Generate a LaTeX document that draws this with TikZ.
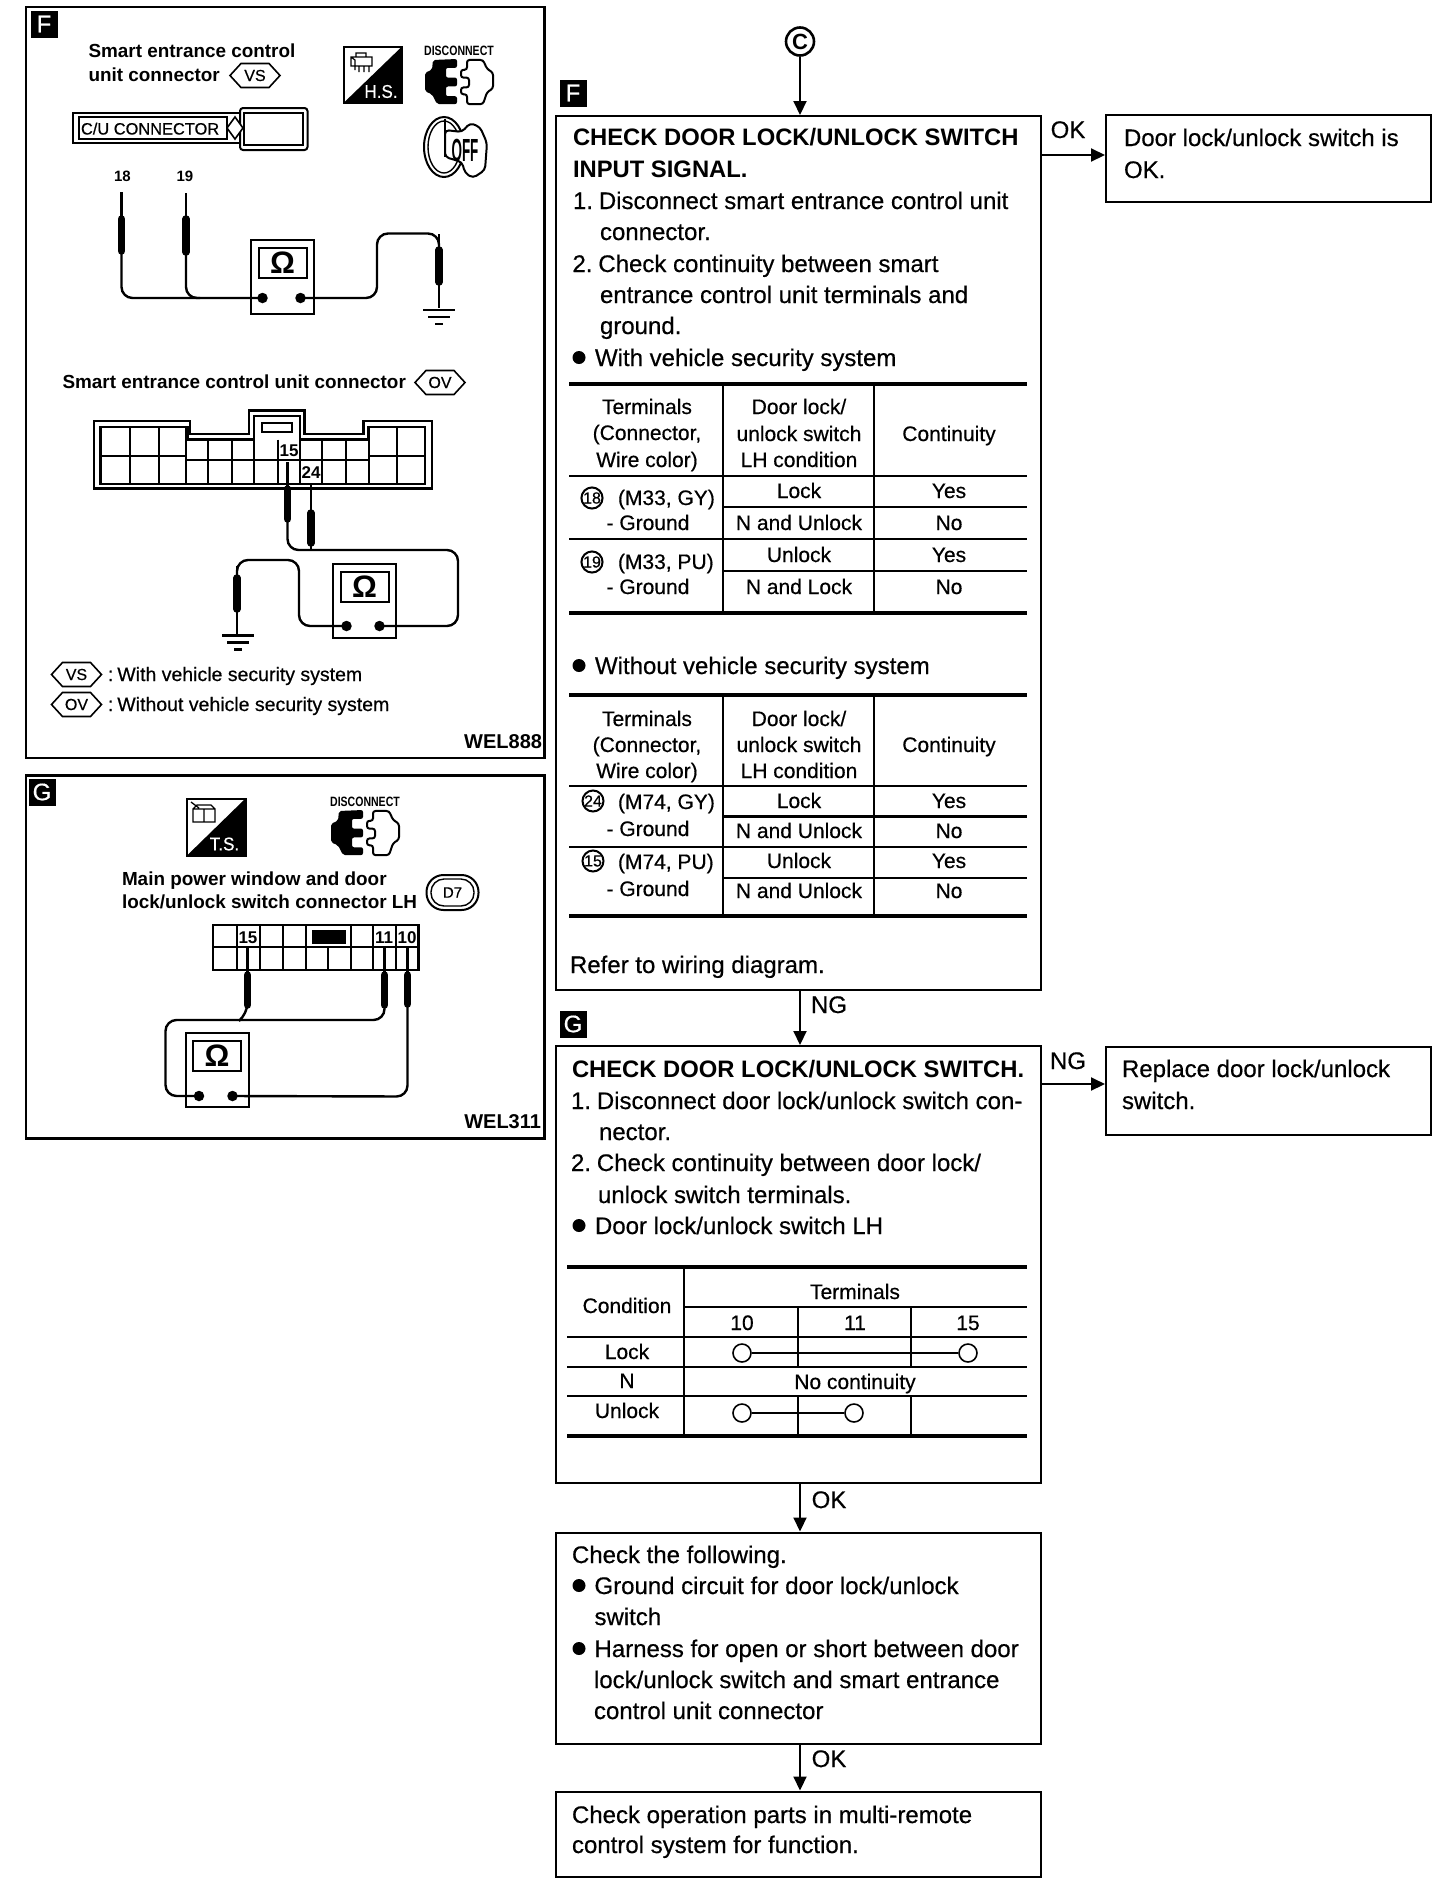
\documentclass[tikz,border=0pt]{standalone}
\usepackage{fontspec}
\usetikzlibrary{arrows.meta,calc}
\setmainfont{Liberation Sans}[UprightFeatures={FakeBold=0.5}]
\newcounter{tn}
\tikzset{
  txt/.style={inner sep=0pt,outer sep=0pt,text=black},
  body/.style={txt,font=\fontsize{24}{24}\selectfont},
  heading/.style={txt,font=\fontsize{23.8}{24}\selectfont\bfseries},
  tabt/.style={txt,font=\fontsize{21}{21}\selectfont},
  pant/.style={txt,font=\fontsize{19.5}{20}\selectfont},
  boldp/.style={txt,font=\fontsize{18.9}{20}\selectfont\bfseries},
  wel/.style={txt,font=\fontsize{20}{20}\selectfont\bfseries},
  pinl/.style={txt,font=\fontsize{17}{17}\selectfont\bfseries},
  flow/.style={draw=black,line width=2pt,anchor=north west,inner sep=0pt,fill=white},
  arr/.style={draw=black,line width=2pt,-{Triangle[length=14pt,width=13pt]}},
  thick rule/.style={line width=4.5pt,black},
  thin rule/.style={line width=2.4pt,black},
  wire/.style={line width=2.4pt,black,rounded corners=11pt},
  mbox/.style={draw=black,line width=2pt,minimum width=63pt,minimum height=74pt,anchor=north west,inner sep=0pt},
  mscr/.style={draw=black,line width=2.2pt,minimum width=48pt,minimum height=30pt,anchor=north west,inner sep=0pt,font=\fontsize{31}{31}\selectfont\bfseries},
  mdot/.style={circle,fill=black,minimum size=10.5pt,inner sep=0pt},
  letter/.style={fill=black,text=white,minimum size=27pt,inner sep=0pt,font=\fontsize{24}{24}\selectfont},
  cnum/.style={circle,draw=black,line width=2pt,minimum size=21pt,inner sep=0pt,font=\fontsize{16}{16}\selectfont},
  openc/.style={circle,draw=black,fill=white,line width=1.6pt,minimum size=18pt,inner sep=0pt},
}
\newcommand\tl[4][body]{\stepcounter{tn}\node[#1,anchor=base west] (t\arabic{tn}) at (#2,#3) {#4};}
\newcommand\tc[4][tabt]{\stepcounter{tn}\node[#1,anchor=base] (t\arabic{tn}) at (#2,#3) {#4};}
\newcommand\tr[4][wel]{\stepcounter{tn}\node[#1,anchor=base east] (t\arabic{tn}) at (#2,#3) {#4};}
\newcommand\bul[2]{\fill[black] (#1,#2-8.5) circle (6.5);}
\newcommand\meter[6]{% name x y doty dotxl dotxr
  \node[mbox] (#1) at (#2,#3) {};
  \node[mscr] (#1s) at ({#2+7.5},{#3+8}) {Ω};
  \node[mdot] (#1l) at ({#2+#5},{#3+#4}) {};
  \node[mdot] (#1r) at ({#2+#6},{#3+#4}) {};}
\newcommand\probe[5]{% name x tip y1 y2
  \coordinate (#1) at (#2,#5);
  \draw[line width=2.2pt,black] (#2,#3) -- (#2,#5);
  \draw[line width=2.8pt,black] (#2,{#4-12}) -- (#2,#4);
  \draw[line width=7.5pt,black,line cap=round] (#2,#4) -- (#2,#5);}
\newcommand\gnd[2]{%
  \draw[line width=2.4pt,black] ({#1-16},#2) -- ({#1+16},#2);
  \draw[line width=2.2pt,black] ({#1-11},{#2+7}) -- ({#1+11},{#2+7});
  \draw[line width=2.6pt,black] ({#1-4},{#2+14}) -- ({#1+4},{#2+14});}
\newcommand\hexa[4]{% x y text name
  \draw[line width=1.6pt,black] ({#1-25},#2) -- ({#1-14},{#2-12}) -- ({#1+14},{#2-12}) -- ({#1+25},#2) -- ({#1+14},{#2+12}) -- ({#1-14},{#2+12}) -- cycle;
  \node[txt,font=\fontsize{16}{16}\selectfont] (#4) at (#1,#2) {#3};}
\newcommand\discon[3]{% x y name ; icon origin
  \node[txt,font=\fontsize{13.5}{14}\selectfont\bfseries,xscale=.78] (#3) at ({#1+34},{#2-8}) {DISCONNECT};
  \begin{scope}[shift={(#1,#2)},yscale=.98]
  \fill[black,rounded corners=2pt] (8,1)--(32,0)--(32,9)--(21,9)--(21,19)--(32,19)--(32,28)--(21,28)--(21,38)--(32,38)--(32,46)--(12,46)--(7,36)--(0,33)--(0,14)--(7,11)--cycle;
  \draw[black,line width=2pt,rounded corners=2.5pt] (42,1)--(58,1)--(62,10)--(68,14)--(68,30)--(62,34)--(58,46)--(42,46)--(42,36)--(36,36)--(36,29)--(44,29)--(44,19)--(36,19)--(36,11)--(42,11)--cycle;
  \end{scope}}
\begin{document}
\begin{tikzpicture}[x=1pt,y=-1pt]
\useasboundingbox[fill=white] (0,0) rectangle (1456,1888);

%%% ---------- left panel F
\draw[black,line width=2.2pt] (26,7) rectangle (544.5,758);
\node[letter] (pF) at (44,24) {F};
\tl[boldp]{88.5}{57}{Smart entrance control}
\tl[boldp]{88.5}{81}{unit connector}
\hexa{255}{75.5}{VS}{hVS}
% H.S.
\draw[black,line width=2pt] (343.5,47) rectangle (401.5,103);
\fill[black] (343.5,103) -- (401.5,47) -- (401.5,103) -- cycle;
\node[txt,text=white,font=\fontsize{18.5}{19}\selectfont,xscale=.92] (hs) at (381,91.5) {H.S.};
\draw[black,line width=1.2pt] (351,57) rectangle (372,66) (356,57) -- (356,53) -- (366,53) -- (366,57) (351,57) -- (355,60) -- (355,70) (359,66) -- (359,72) (364,66) -- (364,72) (369,66) -- (369,72);
\discon{425}{59}{dF}
% OFF key
\draw[black,line width=2pt] (444,147) ellipse (20 and 30);
\draw[black,line width=1.4pt] (444,147) ellipse (16 and 26);
\draw[black,line width=2pt,fill=white,rounded corners=4pt] (445,130) -- (462,132) -- (470,123) -- (480,127) -- (487,143) -- (485,170) -- (473,178) -- (465,173) -- (462,162) -- (445,157) -- cycle;
\draw[black,line width=2pt] (445,119) -- (445,157);
\node[txt,font=\fontsize{32}{32}\selectfont\bfseries,xscale=.42] (off) at (465,150) {OFF};
% C/U connector
\draw[black,line width=2pt] (72.5,112.5) rectangle (241,143);
\draw[black,line width=2pt] (78.5,117) rectangle (226.5,139);
\draw[black,line width=2pt,fill=white,rounded corners=3pt] (240,108) rectangle (307.5,150);
\draw[black,line width=2pt] (244,113) rectangle (302.5,145);
\draw[black,line width=1.6pt,fill=white] (227,128) -- (235,117) -- (243,128) -- (235,139) -- cycle;
\tl[txt,font=\fontsize{16.4}{17}\selectfont]{81}{134.5}{C/U CONNECTOR}
\tc[pinl,font=\fontsize{15}{15}\selectfont\bfseries]{122.5}{181}{18}
\tc[pinl,font=\fontsize{15}{15}\selectfont\bfseries]{185}{181}{19}
\meter{mA}{250}{238.5}{59.5}{12.5}{50.5}
\probe{pa}{121.5}{192}{219}{251}
\probe{pb}{186}{193}{219}{252}
\probe{pc}{439}{308}{250}{282}
\draw[wire] (pa) -- (121.5,298) -- (mAl.center);
\draw[wire] (pb) -- (186,298) -- (200,298);
\draw[wire] (mAr.center) -- (377,298) -- (377,233.5) -- (439,233.5) -- (pc);
\draw[line width=2.4pt,black] (439,250) -- (439,234);
\gnd{439}{310}

\tl[boldp]{62.5}{388.5}{Smart entrance control unit connector}
\hexa{440}{382.5}{OV}{hOV}
% big connector
\draw[black,line width=2.2pt] (94,421) -- (190,421) -- (190,434) -- (249,434) -- (249,410.5) -- (304.5,410.5) -- (304.5,434) -- (363.5,434) -- (363.5,421) -- (432,421) -- (432,488.5) -- (94,488.5) -- cycle;
\draw[black,line width=2.2pt] (100.5,427) -- (187.5,427) -- (187.5,439.5) -- (254,439.5) -- (254,416) -- (300,416) -- (300,439.5) -- (368.5,439.5) -- (368.5,427) -- (425,427) -- (425,484) -- (100.5,484) -- cycle;
\draw[black,line width=2pt] (262,423) rectangle (291.5,431.5);
\foreach \xx in {130,158.5,186,368.5,396.5} \draw[black,line width=2pt] (\xx,427) -- (\xx,484);
\foreach \xx in {208,231.5,254,278,300,322,345.5} \draw[black,line width=2pt] (\xx,439.5) -- (\xx,484);
\draw[black,line width=2pt] (100.5,456) -- (186,456) (368.5,456) -- (425,456) (186,460) -- (368.5,460);
\node[pinl] (n15a) at (289,450.5) {15};
\node[pinl] (n24a) at (311,472.5) {24};
\meter{mB}{332}{563}{63}{14.5}{47.5}
\probe{pd}{287.5}{462}{489}{519}
\probe{pe}{311}{483}{513}{543}
\probe{pf}{237}{635}{578}{609}
\draw[wire] (pd) -- (287.5,550) -- (458,550) -- (458,626) -- (mBr.center);
\draw[wire] (pe) -- (311,550);
\draw[wire] (mBl.center) -- (299,626) -- (299,560) -- (237,560) -- (237,578);
\gnd{238}{635.5}
\hexa{76.5}{674.5}{VS}{hVSb}
\hexa{76.5}{704.5}{OV}{hOVb}
\tl[pant]{108}{681}{:\kern-1.5pt\ With vehicle security system}
\tl[pant]{108}{711}{:\kern-1.5pt\ Without vehicle security system}
\tr{542}{748}{WEL888}

%%% ---------- left panel G
\draw[black,line width=2.2pt] (26,775.5) rectangle (544.5,1138.5);
\node[letter] (pG) at (42,792) {G};
\draw[black,line width=2pt] (186.5,798.5) rectangle (245.5,856);
\fill[black] (186.5,856) -- (245.5,798.5) -- (245.5,856) -- cycle;
\node[txt,text=white,font=\fontsize{18.5}{19}\selectfont,xscale=.92] (ts) at (224.5,844) {T.S.};
\draw[black,line width=1.3pt] (193,809) rectangle (204,822) (204,809) rectangle (215,822) (193,809) -- (197,805) -- (211,805) -- (215,809) (191,802) -- (199,808);
\discon{331}{810}{dG}
\tl[boldp]{122}{885}{Main power window and door}
\tl[boldp]{122}{908.5}{lock/unlock switch connector LH}
\draw[black,line width=2pt,rounded corners=17pt] (426.5,875) rectangle (478.5,910);
\draw[black,line width=1.4pt,rounded corners=13pt] (431,879) rectangle (474,906);
\node[txt,font=\fontsize{15}{15}\selectfont] (d7) at (452.5,892.5) {D7};
% small connector
\draw[black,line width=2.4pt] (213,925) rectangle (418.5,970);
\draw[black,line width=2.2pt] (213,947) -- (418.5,947);
\foreach \xx in {236.5,259.5,282.5,305.5,350.5,373,395.5} \draw[black,line width=2pt] (\xx,925) -- (\xx,970);
\draw[black,line width=2pt] (328,947) -- (328,970);
\fill[black] (311.5,930) rectangle (345.5,943.5);
\node[pinl] (n15b) at (248,938) {15};
\node[pinl] (n11) at (384,938) {11};
\node[pinl] (n10) at (407,938) {10};
\meter{mC}{184.5}{1032}{64}{14.5}{48}
\probe{pg}{247.5}{948}{975}{1005}
\probe{ph}{384.5}{948}{975}{1005}
\probe{pi}{407.5}{948}{975}{1004}
\draw[wire] (ph) -- (384.5,1020) -- (165.5,1020) -- (165.5,1096) -- (mCl.center);
\draw[wire] (pg) -- (247.5,1014) -- (240,1020);
\draw[wire] (pi) -- (407.5,1096.5) -- (mCr.center);
\tr{541}{1128}{WEL311}

%%% ---------- flow boxes
\node[flow,minimum width=485pt,minimum height=874pt] (bF) at (555,115) {};
\node[flow,minimum width=485pt,minimum height=437pt] (bG) at (555,1045) {};
\node[flow,minimum width=485pt,minimum height=211pt] (bC) at (555,1531.5) {};
\node[flow,minimum width=485pt,minimum height=85pt] (bL) at (555,1790.5) {};
\node[flow,minimum width=325pt,minimum height=87pt] (bOK) at (1105,114) {};
\node[flow,minimum width=325pt,minimum height=88pt] (bR) at (1105,1045.5) {};
\node[circle,draw=black,line width=2.6pt,minimum size=28pt,inner sep=0pt,font=\fontsize{22}{22}\selectfont\bfseries] (cC) at (800,41.5) {C};
\node[letter] (lF) at (573,93) {F};
\node[letter] (lG) at (573,1024) {G};
\coordinate (okA) at (1105,155);
\coordinate (ngA) at (1105,1084);
\draw[arr] (cC) -- (cC |- bF.north);
\draw[arr] (cC |- bF.south) -- (cC |- bG.north);
\draw[arr] (cC |- bG.south) -- (cC |- bC.north);
\draw[arr] (cC |- bC.south) -- (cC |- bL.north);
\draw[arr] (bF.east |- okA) -- (okA);
\draw[arr] (bG.east |- ngA) -- (ngA);
\tc[body]{1068}{138}{OK}
\tc[body]{1068}{1069}{NG}
\tc[body]{829}{1013}{NG}
\tc[body]{829}{1508}{OK}
\tc[body]{829}{1767}{OK}

%%% ---------- box F text
\tl[heading]{573}{145.5}{CHECK DOOR LOCK/UNLOCK SWITCH}
\tl[heading]{573}{177}{INPUT SIGNAL.}
\tl{573}{209}{1.\kern-.8pt\ Disconnect smart entrance control unit}
\tl{600}{240}{connector.}
\tl{572.5}{272}{2.\kern-.8pt\ Check continuity between smart}
\tl{600}{303}{entrance control unit terminals and}
\tl{600}{334}{ground.}
\bul{579}{366}
\tl{595}{366}{With vehicle security system}
% table 1
\draw[thick rule] (569,384) -- (1027,384);
\draw[thick rule] (569,613) -- (1027,613);
\draw[thin rule] (569,476) -- (1027,476);
\draw[thin rule] (569,539) -- (1027,539);
\draw[thin rule] (723,507) -- (1027,507);
\draw[thin rule] (723,571) -- (1027,571);
\draw[thin rule] (723,384) -- (723,613);
\draw[thin rule] (874,384) -- (874,613);
\tc{647}{414}{Terminals}\tc{647}{440}{(Connector,}\tc{647}{467}{Wire color)}
\tc{799}{414}{Door lock/}\tc{799}{441}{unlock switch}\tc{799}{467}{LH condition}
\tc{949}{441}{Continuity}
\node[cnum] (c18) at (592,498) {18};
\tl[tabt]{618}{505}{(M33, GY)}\tc{648}{530}{- Ground}
\node[cnum] (c19) at (592,562) {19};
\tl[tabt]{618}{569}{(M33, PU)}\tc{648}{594}{- Ground}
\tc{799}{498}{Lock}\tc{799}{530}{N and Unlock}\tc{799}{562}{Unlock}\tc{799}{594}{N and Lock}
\tc{949}{498}{Yes}\tc{949}{530}{No}\tc{949}{562}{Yes}\tc{949}{594}{No}
\bul{579}{674}
\tl{595}{674}{Without vehicle security system}
% table 2
\draw[thick rule] (569,695) -- (1027,695);
\draw[thick rule] (569,916) -- (1027,916);
\draw[thin rule] (569,786) -- (1027,786);
\draw[thin rule] (569,847) -- (1027,847);
\draw[thin rule] (723,816.5) -- (1027,816.5);
\draw[thin rule] (723,878) -- (1027,878);
\draw[thin rule] (723,695) -- (723,916);
\draw[thin rule] (874,695) -- (874,916);
\tc{647}{726}{Terminals}\tc{647}{752}{(Connector,}\tc{647}{778}{Wire color)}
\tc{799}{726}{Door lock/}\tc{799}{752}{unlock switch}\tc{799}{778}{LH condition}
\tc{949}{752}{Continuity}
\node[cnum] (c24) at (593,801) {24};
\tl[tabt]{618}{809}{(M74, GY)}\tc{648}{836}{- Ground}
\node[cnum] (c15) at (593,861) {15};
\tl[tabt]{618}{869}{(M74, PU)}\tc{648}{896}{- Ground}
\tc{799}{808}{Lock}\tc{799}{838}{N and Unlock}\tc{799}{868}{Unlock}\tc{799}{898}{N and Unlock}
\tc{949}{808}{Yes}\tc{949}{838}{No}\tc{949}{868}{Yes}\tc{949}{898}{No}
\tl{570}{973}{Refer to wiring diagram.}

%%% ---------- box G text
\tl[heading]{572}{1077}{CHECK DOOR LOCK/UNLOCK SWITCH.}
\tl{571}{1109}{1.\kern-.8pt\ Disconnect door lock/unlock switch con-}
\tl{599}{1140}{nector.}
\tl{571}{1171}{2.\kern-.8pt\ Check continuity between door lock/}
\tl{598}{1203}{unlock switch terminals.}
\bul{579}{1234}
\tl{595}{1234}{Door lock/unlock switch LH}
% table 3
\draw[thick rule] (567,1267) -- (1027,1267);
\draw[thick rule] (567,1436) -- (1027,1436);
\draw[thin rule] (684,1307) -- (1027,1307);
\draw[thin rule] (567,1337) -- (1027,1337);
\draw[thin rule] (567,1367) -- (1027,1367);
\draw[thin rule] (567,1396) -- (1027,1396);
\draw[thin rule] (684,1267) -- (684,1436);
\draw[thin rule] (798,1307) -- (798,1367) (798,1396) -- (798,1436);
\draw[thin rule] (911,1307) -- (911,1367) (911,1396) -- (911,1436);
\tc{627}{1313}{Condition}\tc{855}{1299}{Terminals}
\tc{742}{1330}{10}\tc{855}{1330}{11}\tc{968}{1330}{15}
\tc{627}{1359}{Lock}\tc{627}{1388}{N}\tc{627}{1418}{Unlock}
\tc{855}{1389}{No continuity}
\node[openc] (oa) at (742,1353) {};
\node[openc] (ob) at (968,1353) {};
\node[openc] (oc) at (742,1413) {};
\node[openc] (od) at (854,1413) {};
\draw[line width=2pt,black] (oa) -- (ob);
\draw[line width=2pt,black] (oc) -- (od);

%%% ---------- box C, L, OK, R text
\tl{572}{1563}{Check the following.}
\bul{579}{1594}
\tl{594.5}{1594}{Ground circuit for door lock/unlock}
\tl{594.5}{1625}{switch}
\bul{579}{1657}
\tl{594.5}{1657}{Harness for open or short between door}
\tl{594}{1688}{lock/unlock switch and smart entrance}
\tl{594}{1719}{control unit connector}
\tl{572}{1823}{Check operation parts in multi-remote}
\tl{572}{1853}{control system for function.}
\tl{1124}{146}{Door lock/unlock switch is}
\tl{1124}{178}{OK.}
\tl{1122}{1077}{Replace door lock/unlock}
\tl{1122}{1109}{switch.}
\end{tikzpicture}
\end{document}
